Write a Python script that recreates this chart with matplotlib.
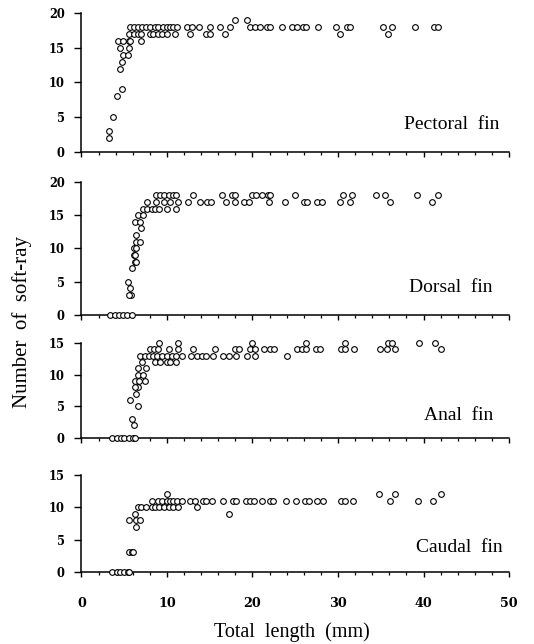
import matplotlib
matplotlib.use('Agg')
import matplotlib.pyplot as plt
from matplotlib.ticker import MultipleLocator

# data (total length in mm, number of soft rays)
pect_x = [3.2, 3.2, 3.7, 4.2, 4.7, 4.5, 4.7, 4.9, 4.5, 5.5, 5.4, 4.3, 4.9, 5.5, 5.7, 7.0,
          5.5, 6.1, 6.6, 7.0, 8.0, 8.4, 8.9, 9.4, 10.0, 10.9, 12.7, 14.6, 15.0, 16.8, 30.2, 35.9,
          5.7, 6.1, 6.6, 7.1, 7.6, 8.0, 8.6, 9.0, 9.5, 10.0, 10.4, 10.7, 11.2, 12.3, 12.9, 13.7,
          15.0, 16.2, 17.4, 19.7, 20.3, 20.9, 21.7, 22.0, 23.4, 24.6, 25.2, 25.9,
          26.3, 27.7, 29.8, 31.0, 31.4, 35.3, 36.3, 39.0, 41.2, 41.7, 17.9, 19.3]
pect_y = [3, 2, 5, 8, 9, 12, 13, 14, 15, 15, 14, 16, 16, 16, 16, 16,
          17, 17, 17, 17, 17, 17, 17, 17, 17, 17, 17, 17, 17, 17, 17, 17,
          18, 18, 18, 18, 18, 18, 18, 18, 18, 18, 18, 18, 18, 18, 18, 18,
          18, 18, 18, 18, 18, 18, 18, 18, 18, 18, 18, 18,
          18, 18, 18, 18, 18, 18, 18, 18, 18, 18, 19, 19]

dors_x = [3.3, 3.9, 4.4, 4.9, 5.3, 5.9, 5.4, 5.7, 5.75, 5.6, 5.9, 6.2, 6.1, 6.3, 6.4, 6.1, 6.4,
          6.4, 6.8, 6.4, 7.0, 6.3, 6.8, 6.6, 7.2,
          7.2, 7.7, 8.2, 8.6, 9.1, 10.0, 11.1,
          7.7, 8.7, 9.6, 10.3, 11.3, 12.5, 13.9, 14.7, 15.2, 16.9, 18.0, 19.0, 19.6, 21.9, 23.8,
          26.0, 26.4, 27.5, 28.1, 30.2, 31.4, 36.1, 41.0,
          8.7, 9.2, 9.6, 10.2, 10.7, 11.1, 13.1, 16.4, 17.6, 18.0, 19.9, 20.4, 21.1, 21.8, 22.1,
          25.0, 30.6, 31.6, 34.4, 35.5, 39.2, 41.7]
dors_y = [0, 0, 0, 0, 0, 0, 5, 4, 3, 3, 7, 8, 9, 9, 8, 10, 10,
          11, 11, 12, 13, 14, 14, 15, 15,
          16, 16, 16, 16, 16, 16, 16,
          17, 17, 17, 17, 17, 17, 17, 17, 17, 17, 17, 17, 17, 17, 17,
          17, 17, 17, 17, 17, 17, 17, 17,
          18, 18, 18, 18, 18, 18, 18, 18, 18, 18, 18, 18, 18, 18, 18,
          18, 18, 18, 18, 18, 18, 18]

anal_x = [3.6, 4.1, 4.6, 5.0, 5.5, 6.06, 6.3, 6.1, 5.9, 5.7, 6.6, 6.4, 6.6, 6.2, 6.3, 6.7,
          6.6, 7.2, 6.6, 7.5, 7.4, 7.1,
          6.8, 7.4, 7.9, 8.4, 8.8, 9.4, 10.0, 10.6, 11.1, 11.7, 12.8, 13.5, 14.1, 14.6, 15.4,
          16.6, 17.2, 18.1, 19.3, 20.3, 24.0,
          8.6, 9.2, 10.0, 10.4, 11.0,
          8.0, 8.5, 9.0, 10.2, 11.3, 13.1, 15.6, 17.9, 18.4, 19.7, 20.3, 21.3, 22.0, 22.5,
          25.2, 25.8, 26.3, 27.4, 27.9, 30.4, 30.8, 31.9, 34.9, 35.7, 36.7, 42.1,
          9.1, 11.3, 19.9, 26.3, 30.8, 35.9, 36.3, 39.5, 41.3]
anal_y = [0, 0, 0, 0, 0, 0, 0, 2, 3, 6, 5, 7, 8, 8, 9, 9,
          10, 10, 11, 11, 9, 12,
          13, 13, 13, 13, 13, 13, 13, 13, 13, 13, 13, 13, 13, 13, 13,
          13, 13, 13, 13, 13, 13,
          12, 12, 12, 12, 12,
          14, 14, 14, 14, 14, 14, 14, 14, 14, 14, 14, 14, 14, 14,
          14, 14, 14, 14, 14, 14, 14, 14, 14, 14, 14, 14,
          15, 15, 15, 15, 15, 15, 15, 15, 15]

caud_x = [3.6, 4.1, 4.5, 4.97, 5.4, 5.6, 5.5, 5.9, 6.06, 5.6, 6.4, 6.8, 6.4, 6.3,
          6.6, 7.0, 7.5, 8.2, 8.6, 9.1, 9.6, 10.2, 10.7, 11.3, 13.5,
          8.3, 8.9, 9.4, 10.0, 10.35, 10.7, 11.2, 11.8, 12.7, 13.3, 14.2, 14.6, 15.3, 16.6,
          17.7, 18.1, 19.2, 19.7, 20.2, 21.1, 22.0, 22.4, 23.9, 25.1, 26.1, 26.6, 27.6,
          28.2, 30.4, 30.8, 31.8, 36.1, 39.4, 41.1,
          10.0, 34.8, 36.7, 42.0, 17.2]
caud_y = [0, 0, 0, 0, 0, 0, 3, 3, 3, 8, 8, 8, 7, 9,
          10, 10, 10, 10, 10, 10, 10, 10, 10, 10, 10,
          11, 11, 11, 11, 11, 11, 11, 11, 11, 11, 11, 11, 11, 11,
          11, 11, 11, 11, 11, 11, 11, 11, 11, 11, 11, 11, 11,
          11, 11, 11, 11, 11, 11, 11,
          12, 12, 12, 12, 9]

fins = ['Pectoral  fin', 'Dorsal  fin', 'Anal  fin', 'Caudal  fin']
xs = [pect_x, dors_x, anal_x, caud_x]
ys = [pect_y, dors_y, anal_y, caud_y]
ymax = [20, 20, 15, 15]

# axes boxes in figure fractions (left, bottom, width, height)
boxes = [(0.1526, 0.764, 0.8006, 0.216),
         (0.1526, 0.511, 0.8006, 0.2065),
         (0.1526, 0.320, 0.8006, 0.1475),
         (0.1526, 0.112, 0.8006, 0.1506)]
label_pos = [(48.9, 4.0), (48.1, 4.1), (48.1, 3.6), (49.2, 3.7)]

serif = 'Liberation Serif'
numfont = 'DejaVu Serif'
fig = plt.figure(figsize=(5.34, 6.44), dpi=100)

for i in range(4):
    ax = fig.add_axes(boxes[i])
    ax.plot(xs[i], ys[i], 'o', ms=4.1, mfc='white', mec='black', mew=0.8,
            clip_on=False, zorder=3)
    ax.set_xlim(0, 50)
    ax.set_ylim(0, ymax[i])
    ax.spines['top'].set_visible(False)
    ax.spines['right'].set_visible(False)
    ax.spines['left'].set_linewidth(1.1)
    ax.spines['bottom'].set_linewidth(1.1)
    ax.xaxis.set_major_locator(MultipleLocator(10))
    ax.xaxis.set_minor_locator(MultipleLocator(2))
    ax.yaxis.set_major_locator(MultipleLocator(5))
    ax.tick_params(axis='y', which='major', direction='out', length=5, width=1.0, pad=7)
    ax.tick_params(axis='x', which='major', direction='out', length=3.8, width=1.0)
    ax.tick_params(axis='x', which='minor', direction='out', length=2.3, width=0.9)
    for t in ax.get_yticklabels():
        t.set_fontfamily(numfont)
        t.set_fontweight('bold')
        t.set_fontsize(8.3)
    if i < 3:
        ax.set_xticklabels([])
    else:
        ax.tick_params(axis='x', which='major', pad=14)
        for t in ax.get_xticklabels():
            t.set_fontfamily(numfont)
            t.set_fontweight('bold')
            t.set_fontsize(9.2)
    ax.text(label_pos[i][0], label_pos[i][1], fins[i], ha='right', va='center',
            fontfamily=serif, fontsize=14)

fig.text(292 / 534, 1 - 632 / 644, 'Total  length  (mm)', ha='center', va='center',
         fontfamily=serif, fontsize=14.5)
fig.text(22 / 534, 1 - 322 / 644, 'Number  of  soft-ray', ha='center', va='center',
         rotation=90, fontfamily=serif, fontsize=15)

fig.savefig('out.png', dpi=100)
